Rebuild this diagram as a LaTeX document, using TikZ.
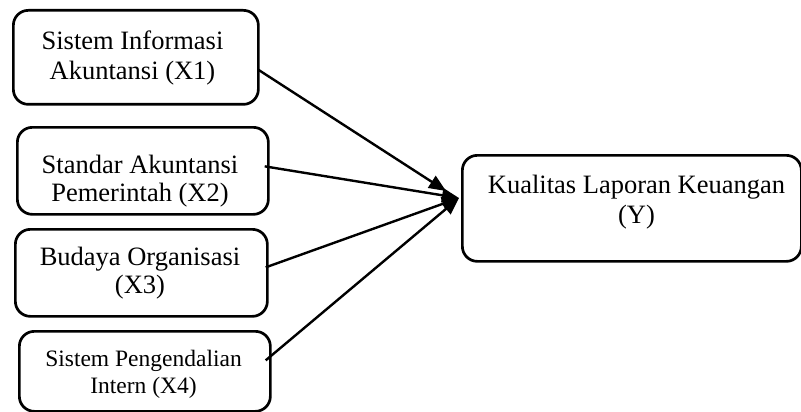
\documentclass[tikz,border=0pt]{standalone}
\usepackage{fontspec}
\setmainfont{Liberation Serif}
\usetikzlibrary{arrows.meta}
\begin{document}
\begin{tikzpicture}[x=1pt,y=-1pt,
  box/.style={draw, line width=2.7pt, rounded corners=15pt, inner sep=0pt, anchor=north west},
  lbl/.style={anchor=base, inner sep=0pt, font=\fontsize{26.5}{30}\selectfont},
  lblsm/.style={anchor=base, inner sep=0pt, font=\fontsize{23.5}{27}\selectfont},
  conn/.style={line width=2.4pt, -{Triangle[length=17pt,width=14pt]}}]
\useasboundingbox (0,0) rectangle (801,412);
\node[box, minimum width=245pt, minimum height=94pt] (b1) at (12,9) {};
\node[box, minimum width=251pt, minimum height=87pt] (b2) at (16,126) {};
\node[box, minimum width=252pt, minimum height=87pt] (b3) at (14,228) {};
\node[box, minimum width=251pt, minimum height=80pt] (b4) at (18,330) {};
\node[box, minimum width=339pt, minimum height=106pt] (by) at (461,154) {};
\node[lbl] (t1a) at (132.5,50) {Sistem Informasi};
\node[lbl] (t1b) at (132.5,80) {Akuntansi (X1)};
\node[lbl] (t2a) at (140,173) {Standar Akuntansi};
\node[lbl] (t2b) at (140,201) {Pemerintah (X2)};
\node[lbl] (t3a) at (140,265) {Budaya Organisasi};
\node[lbl] (t3b) at (140,293) {(X3)};
\node[lblsm] (t4a) at (143.5,366) {Sistem Pengendalian};
\node[lblsm] (t4b) at (143.5,393) {Intern (X4)};
\node[lbl] (tya) at (636.5,193) {Kualitas Laporan Keuangan};
\node[lbl] (tyb) at (636.5,223) {(Y)};
\coordinate (tip) at (459,198);
\coordinate (tip1) at (446,191);
\draw[conn] ([xshift=-2pt,yshift=-12pt]b1.east) -- (tip1);
\draw[conn] ([xshift=-5pt,yshift=4.5pt]b2.east) -- (tip);
\draw[conn] ([xshift=-3pt,yshift=5.5pt]b3.east) -- (tip);
\draw[conn] ([xshift=-6pt,yshift=11pt]b4.east) -- (tip);
\end{tikzpicture}
\end{document}
